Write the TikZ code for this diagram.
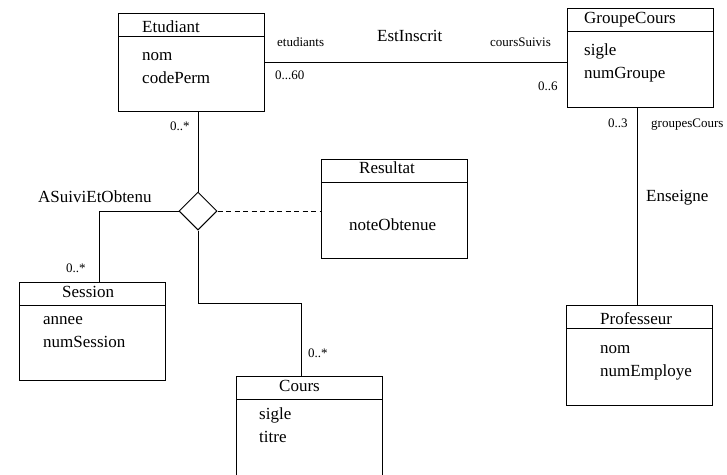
\documentclass[tikz,border=0pt]{standalone}
\usepackage{fontspec}
\setmainfont{Liberation Serif}
\usetikzlibrary{shapes.geometric}

\tikzset{
  classbox/.style={draw, line width=1pt, inner sep=0pt, anchor=north west,
                   minimum width=146pt, minimum height=99pt},
  txt/.style={inner sep=0pt, anchor=base west, font=\fontsize{17}{20}\selectfont},
  lbl/.style={inner sep=0pt, anchor=base west, font=\fontsize{13}{15}\selectfont},
  link/.style={line width=1pt},
  assocdiamond/.style={draw, diamond, line width=1pt, inner sep=0pt,
                       minimum width=38pt, minimum height=38pt}
}

\begin{document}
\begin{tikzpicture}[x=1pt, y=-1pt]
  \path[use as bounding box, clip] (0,0) rectangle (727,474);
  \fill[white] (0,0) rectangle (727,474);

  % class boxes
  \node[classbox, minimum height=98pt] (etudiant) at (118,13) {};
  \node[classbox] (groupe) at (567,8) {};
  \node[classbox] (resultat) at (321,159) {};
  \node[classbox, minimum height=98pt] (session) at (19,282) {};
  \node[classbox, minimum height=100pt] (prof) at (566,305) {};
  \node[classbox, minimum height=130pt] (cours) at (236,376) {};

  % header separators
  \foreach \c in {etudiant,groupe,resultat,session,prof,cours}
    \draw[link] ([yshift=-23pt]\c.north west) -- ([yshift=-23pt]\c.north east);

  % class names and attributes
  \node[txt] (etuName) at (142,32) {Etudiant};
  \node[txt] (etuA1) at (142,60) {nom};
  \node[txt] (etuA2) at (142,83) {codePerm};

  \node[txt] (gcName) at (584,23) {GroupeCours};
  \node[txt] (gcA1) at (584,55) {sigle};
  \node[txt] (gcA2) at (584,78) {numGroupe};

  \node[txt] (resName) at (359,173) {Resultat};
  \node[txt] (resA1) at (349,230) {noteObtenue};

  \node[txt] (sesName) at (62,297) {Session};
  \node[txt] (sesA1) at (43,324) {annee};
  \node[txt] (sesA2) at (43,347) {numSession};

  \node[txt] (profName) at (600,324) {Professeur};
  \node[txt] (profA1) at (600,353) {nom};
  \node[txt] (profA2) at (600,376) {numEmploye};

  \node[txt] (coursName) at (279,391) {Cours};
  \node[txt] (coursA1) at (259,419) {sigle};
  \node[txt] (coursA2) at (259,442) {titre};

  % association diamond
  \node[assocdiamond] (assoc) at (198,211) {};

  % connector end points
  \coordinate (sesTop) at (99,282);
  \coordinate (coursTop) at (301,376);
  \coordinate (gcBot) at (637,107);

  % connectors
  \draw[link] (etudiant.east) -- (etudiant.east -| groupe.west);
  \draw[link] (assoc.north) -- (assoc.north |- etudiant.south);
  \draw[link] (assoc.west) -| (sesTop);
  \draw[link] (assoc.south) -- ++(0,73) -| (coursTop);
  \draw[link, dash pattern=on 5pt off 3.5pt] (assoc.east) -- (assoc.east -| resultat.west);
  \draw[link] (gcBot) -- (gcBot |- prof.north);

  % association names, roles and multiplicities
  \node[txt] (estInscrit) at (377,41) {EstInscrit};
  \node[lbl] (roleEtu) at (277,46) {etudiants};
  \node[lbl] (roleCours) at (490,46) {coursSuivis};
  \node[lbl] (multEtu) at (275,79) {0...60};
  \node[lbl] (multGc) at (538,90) {0..6};

  \node[lbl] (multEtuA) at (170,130) {0..*};
  \node[txt] (asuivi) at (38,202) {ASuiviEtObtenu};
  \node[lbl] (multSes) at (66,272) {0..*};
  \node[lbl] (multCours) at (308,357) {0..*};

  \node[lbl] (multGc3) at (608,127) {0..3};
  \node[lbl] (roleGc) at (651,127) {groupesCours};
  \node[txt] (enseigne) at (646,201) {Enseigne};
\end{tikzpicture}
\end{document}
